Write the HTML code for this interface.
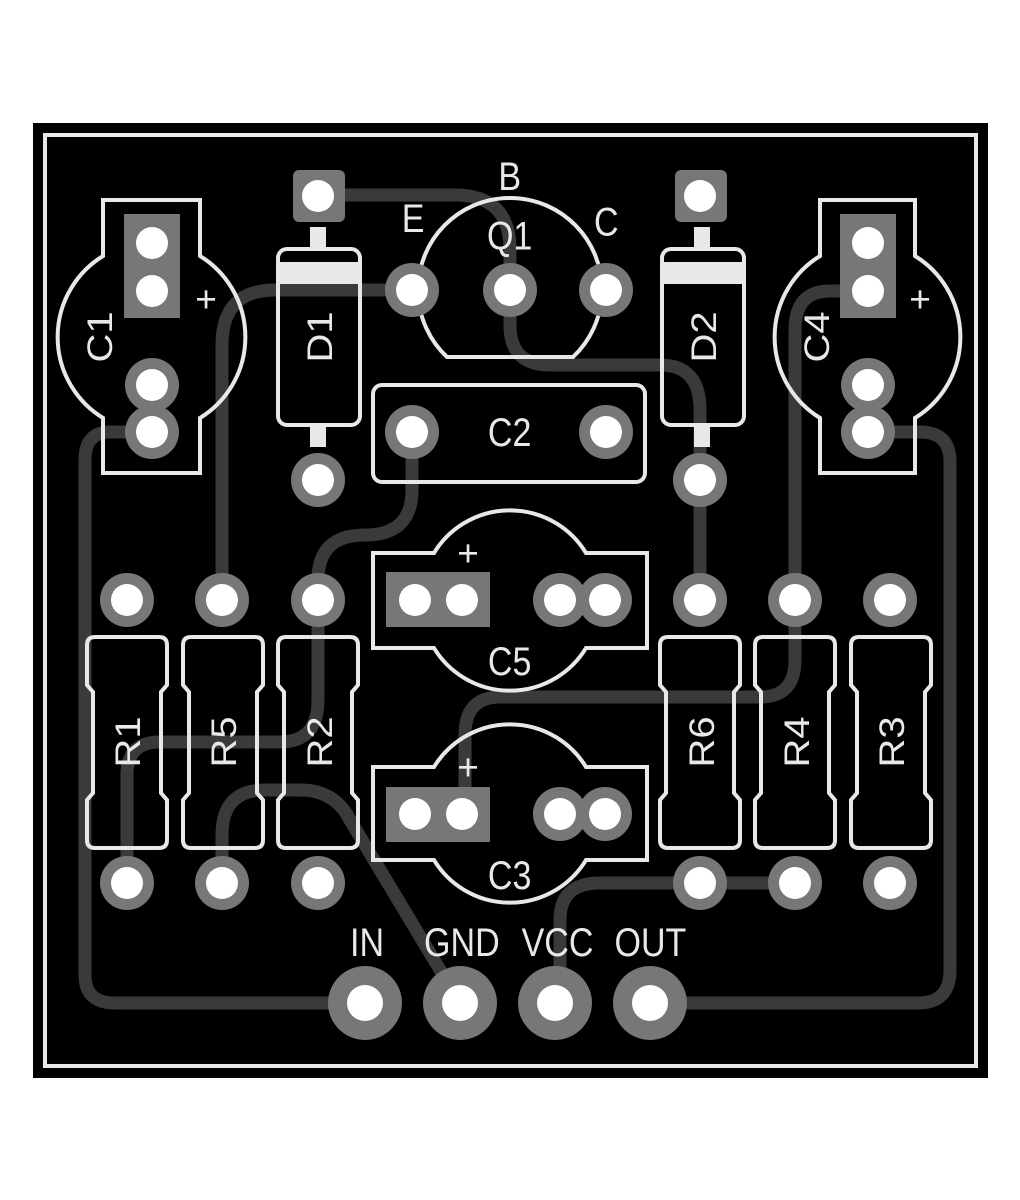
<!DOCTYPE html>
<html><head><meta charset="utf-8"><style>
html,body{margin:0;padding:0;background:#fff;}
svg{display:block}
text{font-family:"Liberation Sans",sans-serif;fill:#e8e8e8;font-size:37px;text-anchor:middle;}
</style></head><body>
<svg width="1020" height="1200" viewBox="0 0 1020 1200" xmlns="http://www.w3.org/2000/svg">
<rect x="0" y="0" width="1020" height="1200" fill="#fff"/>
<rect x="33" y="123" width="955" height="955" fill="#000"/>
<rect x="45" y="135" width="931" height="931" fill="none" stroke="#e8e8e8" stroke-width="4"/>

<g fill="none" stroke="#3a3a3a" stroke-width="13" stroke-linecap="round" stroke-linejoin="round">
<path d="M318 195 H455 Q510 195 510 250 V290"/>
<path d="M510 290 V325 Q510 365 550 365 H660 Q700 365 700 410 V600"/>
<path d="M412 290 H275 Q222 290 222 345 V600"/>
<path d="M152 432 H110 Q85 432 85 460 V975 Q85 1003 115 1003 H365"/>
<path d="M412 432 V490 Q412 535 365 535 Q318 535 318 580 V700 Q318 742 280 742 H160 Q127 742 127 775 V883"/>
<path d="M222 883 V835 Q222 790 265 790 H300 Q335 790 350 820 L460 1003"/>
<path d="M868 291 H830 Q795 291 795 330 V660 Q795 697 760 697 H500 Q465 697 465 735 V812"/>
<path d="M868 432 H920 Q950 432 950 462 V970 Q950 1003 918 1003 H650"/>
<path d="M795 883 H700 H600 Q560 883 560 920 V1003"/>
<path d="M152 385 V432"/><path d="M868 385 V432"/>
<path d="M557 600 H602"/><path d="M557 812 H602"/>
</g>

<g fill="none" stroke="#e8e8e8" stroke-width="4">
<path d="M103 200 H200 V256 A95 95 0 0 1 200 418 V473 H103 V418 A95 95 0 0 1 103 256 Z"/>
<path d="M820 200 H915 V256 A95 95 0 0 1 915 418 V473 H820 V418 A95 95 0 0 1 820 256 Z"/>
<path d="M447 357 A92 92 0 1 1 573 357 Z"/>
<rect x="373" y="385" width="272" height="97" rx="9"/>
<path d="M373 553 H434 A89 89 0 0 1 586 553 H647 V648 H586 A89 89 0 0 1 434 648 H373 Z"/>
<path d="M373 767 H434 A89 89 0 0 1 586 767 H647 V860 H586 A89 89 0 0 1 434 860 H373 Z"/>
<rect x="278" y="249" width="82" height="176" rx="9"/>
<rect x="662" y="249" width="82" height="176" rx="9"/>
</g>
<g fill="#e8e8e8">
<rect x="278" y="262" width="82" height="22"/>
<rect x="662" y="262" width="82" height="22"/>
<rect x="310" y="227" width="16" height="22"/><rect x="310" y="425" width="16" height="22"/>
<rect x="694" y="227" width="16" height="22"/><rect x="694" y="425" width="16" height="22"/>
</g>
<g fill="none" stroke="#e8e8e8" stroke-width="4">
<path d="M95 637 H159 Q167 637 167 645 V685 L161 692 V793 L167 800 V840 Q167 848 159 848 H95 Q87 848 87 840 V800 L93 793 V692 L87 685 V645 Q87 637 95 637 Z"/>
<path transform="translate(96 0)" d="M95 637 H159 Q167 637 167 645 V685 L161 692 V793 L167 800 V840 Q167 848 159 848 H95 Q87 848 87 840 V800 L93 793 V692 L87 685 V645 Q87 637 95 637 Z"/>
<path transform="translate(191 0)" d="M95 637 H159 Q167 637 167 645 V685 L161 692 V793 L167 800 V840 Q167 848 159 848 H95 Q87 848 87 840 V800 L93 793 V692 L87 685 V645 Q87 637 95 637 Z"/>
<path transform="translate(573 0)" d="M95 637 H159 Q167 637 167 645 V685 L161 692 V793 L167 800 V840 Q167 848 159 848 H95 Q87 848 87 840 V800 L93 793 V692 L87 685 V645 Q87 637 95 637 Z"/>
<path transform="translate(668 0)" d="M95 637 H159 Q167 637 167 645 V685 L161 692 V793 L167 800 V840 Q167 848 159 848 H95 Q87 848 87 840 V800 L93 793 V692 L87 685 V645 Q87 637 95 637 Z"/>
<path transform="translate(764 0)" d="M95 637 H159 Q167 637 167 645 V685 L161 692 V793 L167 800 V840 Q167 848 159 848 H95 Q87 848 87 840 V800 L93 793 V692 L87 685 V645 Q87 637 95 637 Z"/>
</g>

<g fill="#777">
<rect x="124" y="214" width="56" height="104"/>
<rect x="840" y="214" width="56" height="104"/>
<rect x="293" y="170" width="52" height="52" rx="6"/>
<rect x="675" y="170" width="52" height="52" rx="6"/>
<rect x="386" y="572" width="104" height="55"/>
<rect x="386" y="787" width="104" height="55"/>
</g>
<g fill="#777" stroke="#3a3a3a" stroke-width="0">
<circle cx="152" cy="385" r="27"/><circle cx="152" cy="432" r="27"/>
<circle cx="868" cy="385" r="27"/><circle cx="868" cy="432" r="27"/>
</g>
<g fill="#777">
<circle cx="318" cy="480" r="27"/><circle cx="700" cy="480" r="27"/>
<circle cx="412" cy="290" r="27"/><circle cx="510" cy="290" r="27"/><circle cx="606" cy="290" r="27"/>
<circle cx="412" cy="432" r="27"/><circle cx="606" cy="432" r="27"/>
<circle cx="560" cy="600" r="27"/><circle cx="605" cy="600" r="27"/>
<circle cx="560" cy="814" r="27"/><circle cx="605" cy="814" r="27"/>
<circle cx="127" cy="600" r="27"/><circle cx="222" cy="600" r="27"/><circle cx="318" cy="600" r="27"/>
<circle cx="700" cy="600" r="27"/><circle cx="795" cy="600" r="27"/><circle cx="890" cy="600" r="27"/>
<circle cx="127" cy="883" r="27"/><circle cx="222" cy="883" r="27"/><circle cx="318" cy="883" r="27"/>
<circle cx="700" cy="883" r="27"/><circle cx="795" cy="883" r="27"/><circle cx="890" cy="883" r="27"/>
<circle cx="365" cy="1003" r="37"/><circle cx="460" cy="1003" r="37"/><circle cx="555" cy="1003" r="37"/><circle cx="650" cy="1003" r="37"/>
</g>
<g fill="#fff">
<circle cx="152" cy="243" r="16"/><circle cx="152" cy="291" r="16"/>
<circle cx="868" cy="243" r="16"/><circle cx="868" cy="291" r="16"/>
<circle cx="318" cy="196" r="16"/><circle cx="700" cy="196" r="16"/>
<circle cx="152" cy="385" r="16"/><circle cx="152" cy="432" r="16"/>
<circle cx="868" cy="385" r="16"/><circle cx="868" cy="432" r="16"/>
<circle cx="318" cy="480" r="16"/><circle cx="700" cy="480" r="16"/>
<circle cx="412" cy="290" r="16"/><circle cx="510" cy="290" r="16"/><circle cx="606" cy="290" r="16"/>
<circle cx="412" cy="432" r="16"/><circle cx="606" cy="432" r="16"/>
<circle cx="415" cy="600" r="16"/><circle cx="462" cy="600" r="16"/>
<circle cx="560" cy="600" r="16"/><circle cx="605" cy="600" r="16"/>
<circle cx="415" cy="814" r="16"/><circle cx="462" cy="814" r="16"/>
<circle cx="560" cy="814" r="16"/><circle cx="605" cy="814" r="16"/>
<circle cx="127" cy="600" r="16"/><circle cx="222" cy="600" r="16"/><circle cx="318" cy="600" r="16"/>
<circle cx="700" cy="600" r="16"/><circle cx="795" cy="600" r="16"/><circle cx="890" cy="600" r="16"/>
<circle cx="127" cy="883" r="16"/><circle cx="222" cy="883" r="16"/><circle cx="318" cy="883" r="16"/>
<circle cx="700" cy="883" r="16"/><circle cx="795" cy="883" r="16"/><circle cx="890" cy="883" r="16"/>
<circle cx="365" cy="1003" r="18"/><circle cx="460" cy="1003" r="18"/><circle cx="555" cy="1003" r="18"/><circle cx="650" cy="1003" r="18"/>
</g>

<g transform="scale(0.92 1.08)">
<text x="554" y="176">B</text>
<text x="449" y="215">E</text>
<text x="659" y="218">C</text>
<text x="554" y="231">Q1</text>
<text x="554" y="413">C2</text>
<text x="554" y="625">C5</text>
<text x="554" y="823">C3</text>
<text x="399" y="885" font-size="33">IN</text>
<text x="502" y="885" font-size="33">GND</text>
<text x="606" y="885" font-size="33">VCC</text>
<text x="707" y="885" font-size="33">OUT</text>
</g>
<text x="468" y="566" font-size="46">+</text>
<text x="468" y="780" font-size="46">+</text>
<text x="206" y="312" font-size="46">+</text>
<text x="920" y="312" font-size="46">+</text>
<text transform="translate(112 337) rotate(-90) scale(1.08 0.95)">C1</text>
<text transform="translate(829 337) rotate(-90) scale(1.08 0.95)">C4</text>
<text transform="translate(332 337) rotate(-90) scale(1.08 0.95)">D1</text>
<text transform="translate(716 337) rotate(-90) scale(1.08 0.95)">D2</text>
<text transform="translate(140 742) rotate(-90) scale(1.08 0.95)">R1</text>
<text transform="translate(236 742) rotate(-90) scale(1.08 0.95)">R5</text>
<text transform="translate(332 742) rotate(-90) scale(1.08 0.95)">R2</text>
<text transform="translate(714 742) rotate(-90) scale(1.08 0.95)">R6</text>
<text transform="translate(809 742) rotate(-90) scale(1.08 0.95)">R4</text>
<text transform="translate(904 742) rotate(-90) scale(1.08 0.95)">R3</text>
</svg>
</body></html>
